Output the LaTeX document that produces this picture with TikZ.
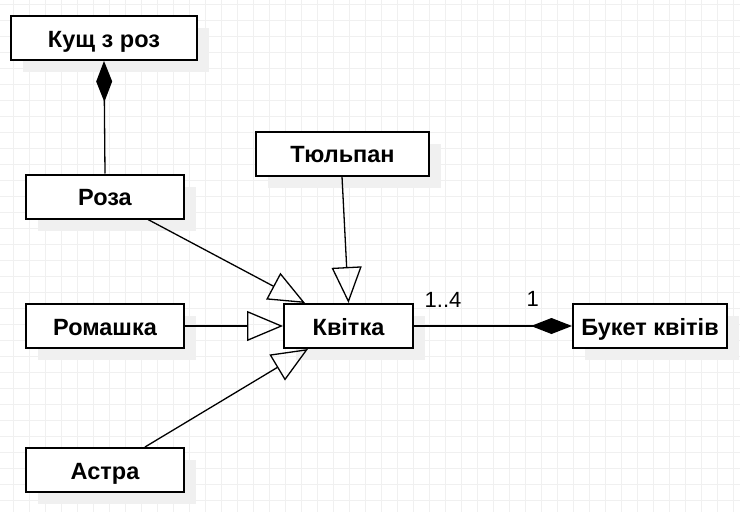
\documentclass[tikz,border=0pt]{standalone}
\usepackage{fontspec}
\setmainfont{Liberation Sans}
\usetikzlibrary{arrows.meta,shadows}

\begin{document}
\begin{tikzpicture}[x=1pt,y=-1pt,
    gitter/.style={line width=0.7pt,black!6},
    klas/.style={draw,line width=2pt,fill=white,inner sep=0pt,
      minimum height=44pt,text height=18pt,text depth=0pt,
      font=\fontsize{23.5}{28}\selectfont\bfseries,
      drop shadow={shadow xshift=12pt,shadow yshift=-12pt,fill=black!6,opacity=1}},
    uspad/.style={line width=1.3pt,-{Triangle[open,length=36pt,width=30pt]}},
    kompoz/.style={line width=1.3pt,-{Diamond[length=41pt,width=16pt]}},
    krat/.style={font=\fontsize{22}{26}\selectfont,anchor=base west,inner sep=0pt}]
      \path[use as bounding box,fill=white] (0,0) rectangle (740,512) ;
      \foreach \gx in {13,29,...,733} \draw[gitter] (\gx,0) -- (\gx,512) ;
      \foreach \gy in {4,20,...,500} \draw[gitter] (0,\gy) -- (740,\gy) ;
      \node[klas,minimum width=186pt] (kust) at (104,38) {Кущ з роз} ;
      \node[klas,minimum width=158pt] (roza) at (105,196.5) {Роза} ;
      \node[klas,minimum width=173pt] (tulpan) at (342.5,153.5) {Тюльпан} ;
      \node[klas,minimum width=129pt] (kvitka) at (348.5,326) {Квітка} ;
      \node[klas,minimum width=158pt] (romashka) at (105,326) {Ромашка} ;
      \node[klas,minimum width=158pt] (astra) at (105,470) {Астра} ;
      \node[klas,minimum width=154pt] (buket) at (650,326) {Букет квітів} ;
      \draw[uspad] ([xshift=43pt]roza.south) -- ([xshift=-43.5pt]kvitka.north) ;
      \draw[uspad] ([xshift=-0.5pt]tulpan.south) -- (kvitka.north) ;
      \draw[uspad] (romashka.east) -- (kvitka.west) ;
      \draw[uspad] ([xshift=40pt]astra.north) -- ([xshift=-40.5pt]kvitka.south) ;
      \draw[kompoz] (roza.north) -- (kust.south) ;
      \draw[kompoz] (kvitka.east) -- (buket.west) %
        node[krat] (mnozh) at (424,307) {1..4} %
        node[krat] (odyn) at (526,306) {1} ;
    \end{tikzpicture}
\end{document}
